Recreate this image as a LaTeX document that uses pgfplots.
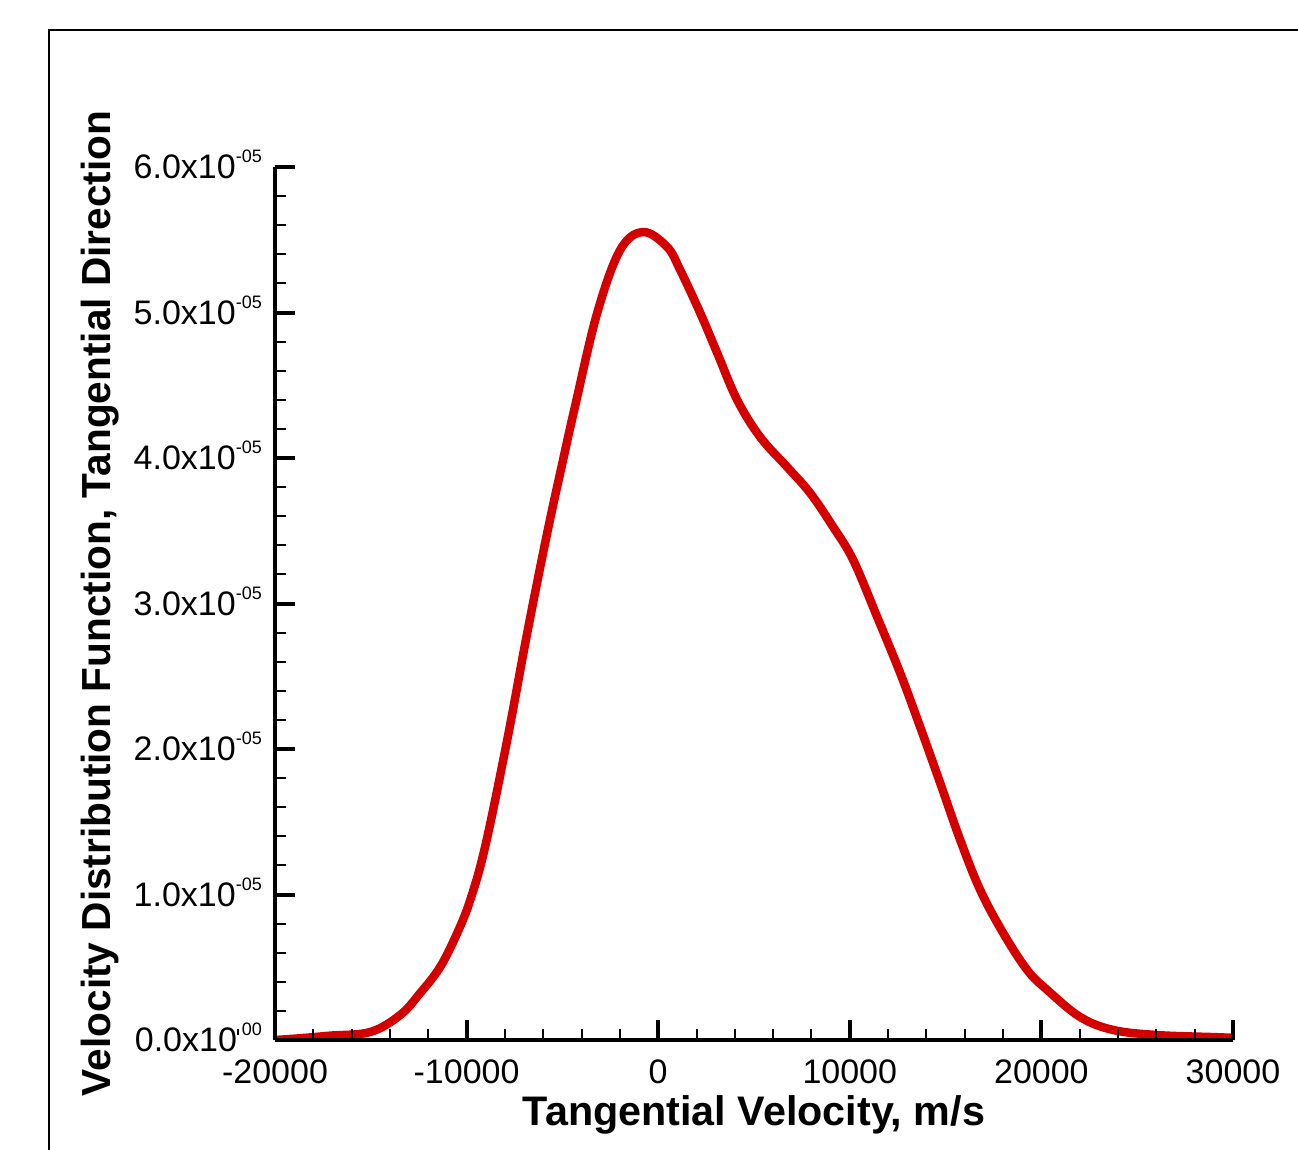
\documentclass[border=0pt]{standalone}
\usepackage{fontspec}
\setmainfont{Liberation Sans}
\usepackage{pgfplots}
\pgfplotsset{compat=1.18}
\definecolor{curvered}{RGB}{212,0,0}
\newcommand{\tl}[2]{#1x10\smash{\raisebox{16pt}{\fontsize{18}{18}\selectfont #2}}}
\begin{document}
\begin{tikzpicture}
\begin{axis}[
  at={(0pt,0pt)}, anchor=south west,
  scale only axis, width=958pt, height=873pt,
  xmin=-20000, xmax=30000, ymin=0, ymax=6e-5,
  axis lines=left, axis line style={-, line width=3.5pt, black},
  axis on top,
  xtick={-20000,-10000,0,10000,20000,30000},
  xticklabels={-20000,-10000,0,10000,20000,30000},
  scaled x ticks=false,
  minor x tick num=4,
  ytick={0,1e-5,2e-5,3e-5,4e-5,5e-5,6e-5},
  yticklabels={{\tl{0.0}{\rule[1pt]{1.8pt}{6pt}\,00}},{\tl{1.0}{-05}},{\tl{2.0}{-05}},{\tl{3.0}{-05}},{\tl{4.0}{-05}},{\tl{5.0}{-05}},{\tl{6.0}{-05}}},
  minor y tick num=4,
  scaled y ticks=false,
  tick align=inside,
  major tick length=20pt, minor tick length=11pt,
  major tick style={line width=4pt, black},
  minor tick style={line width=2pt, black},
  xticklabel style={font=\fontsize{34}{34}\selectfont, inner sep=0pt, anchor=north, yshift=-20pt},
  yticklabel style={font=\fontsize{34}{34}\selectfont, inner sep=0pt, anchor=east, xshift=-13pt},
  xlabel={Tangential Velocity, m/s},
  ylabel={Velocity Distribution Function, Tangential Direction},
  xlabel style={font=\bfseries\fontsize{41.3}{41.3}\selectfont, inner sep=0pt, at={(axis description cs:0.5,-0.09737)}, anchor=base},
  ylabel style={font=\bfseries\fontsize{40.6}{40.6}\selectfont, inner sep=0pt, at={(axis description cs:-0.17223,0.5)}, anchor=base},
]
\addplot[curvered, line width=8.5pt, smooth, tension=0.6, line join=round] coordinates {
(-20000,0) (-18685,0.012e-5) (-17120,0.03e-5) (-15030,0.055e-5) (-13465,0.172e-5)
(-12420,0.323e-5) (-11380,0.502e-5) (-10490,0.735e-5) (-9810,0.962e-5) (-9030,1.33e-5)
(-7880,2.062e-5) (-6837,2.797e-5) (-5793,3.485e-5) (-5010,3.96e-5) (-4332,4.36e-5)
(-3184,4.997e-5) (-1983,5.430e-5) (-783,5.553e-5) (470,5.450e-5) (1148,5.292e-5)
(2192,4.997e-5) (3079,4.722e-5) (4123,4.399e-5) (5323,4.144e-5) (6733,3.938e-5)
(7933,3.759e-5) (9133,3.526e-5) (10177,3.299e-5) (11430,2.907e-5) (12630,2.522e-5)
(13674,2.151e-5) (14718,1.766e-5) (15762,1.375e-5) (16806,1.031e-5) (18006,0.735e-5)
(19259,0.481e-5) (20303,0.344e-5) (22025,0.158e-5) (23746,0.069e-5) (26043,0.034e-5)
(28966,0.02e-5) (30000,0.015e-5)
};
\end{axis}
\draw[line width=2pt, black] (1200pt,1010pt) -- (-226pt,1010pt) -- (-226pt,-300pt);
\pgfresetboundingbox
\useasboundingbox (-275pt,-109pt) rectangle (1023pt,1040pt);
\end{tikzpicture}
\end{document}
